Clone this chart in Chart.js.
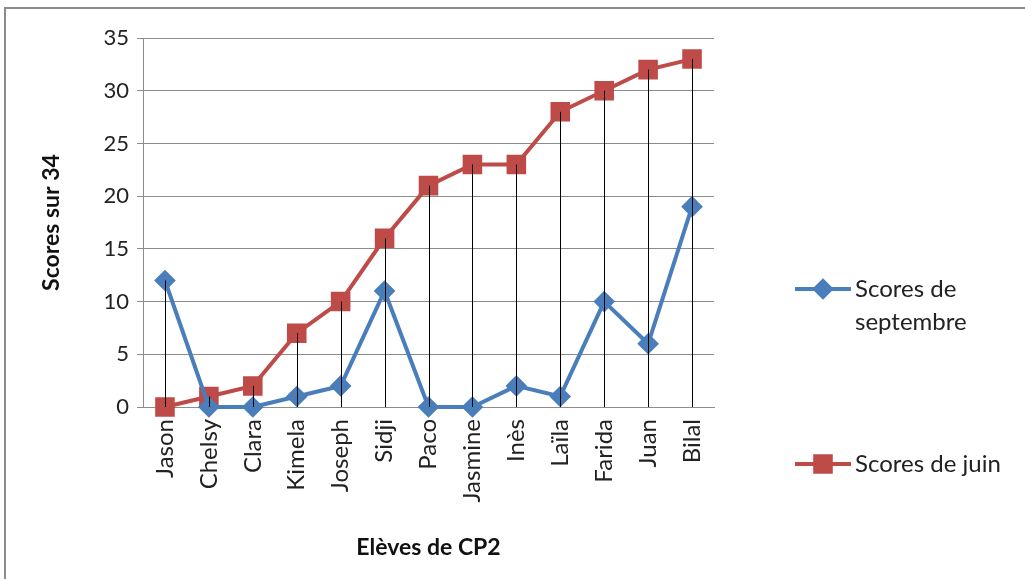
<!DOCTYPE html>
<html>
<head>
<meta charset="utf-8">
<script src="https://cdn.jsdelivr.net/npm/chart.js@4.4.1/dist/chart.umd.min.js"></script>
<style>
  html, body { margin: 0; padding: 0; background: #fff; }
  #wrap { position: relative; width: 1025px; height: 579px; overflow: hidden; }
  #frame { position: absolute; left: 4px; top: 7px; width: 1100px; height: 700px;
           border-top: 2px solid #8c8c8c; border-left: 2px solid #8c8c8c; }
  canvas { position: absolute; left: 0; top: 0; }
</style>
</head>
<body>
<div id="wrap">
  <div id="frame"></div>
  <canvas id="scoresChart" width="1025" height="579"></canvas>
</div>
<script>
const eleves = ['Jason', 'Chelsy', 'Clara', 'Kimela', 'Joseph', 'Sidji', 'Paco', 'Jasmine', 'Inès', 'Laïla', 'Farida', 'Juan', 'Bilal'];
const scoresSeptembre = [12, 0, 0, 1, 2, 11, 0, 0, 2, 1, 10, 6, 19];
const scoresJuin = [0, 1, 2, 7, 10, 16, 21, 23, 23, 28, 30, 32, 33];
const yTicks = [0, 5, 10, 15, 20, 25, 30, 35];

const FONT = 'Lato, "Open Sans", sans-serif';
const BLUE = '#4a7ebb';
const RED = '#be4b48';

// lignes de projection (noires) du point le plus haut vers 0
const dropLines = {
  id: 'dropLines',
  afterDatasetsDraw(chart) {
    const { ctx, scales: { x, y } } = chart;
    ctx.save();
    ctx.strokeStyle = '#000';
    ctx.lineWidth = 1;
    eleves.forEach((e, i) => {
      const top = Math.max(scoresSeptembre[i], scoresJuin[i]);
      const px = Math.round(x.getPixelForValue(i)) + 0.5;
      ctx.beginPath();
      ctx.moveTo(px, y.getPixelForValue(top));
      ctx.lineTo(px, y.getPixelForValue(0));
      ctx.stroke();
    });
    ctx.restore();
  }
};

// légende à droite, façon Excel
const sideLegend = {
  id: 'sideLegend',
  afterDraw(chart) {
    const { ctx } = chart;
    const items = [
      { ds: chart.data.datasets[0], y: 289, lines: ['Scores de', 'septembre'] },
      { ds: chart.data.datasets[1], y: 464, lines: ['Scores de juin'] }
    ];
    ctx.save();
    items.forEach(it => {
      ctx.strokeStyle = it.ds.borderColor;
      ctx.lineWidth = 4;
      ctx.beginPath();
      ctx.moveTo(795, it.y);
      ctx.lineTo(851, it.y);
      ctx.stroke();
      ctx.fillStyle = it.ds.pointBackgroundColor;
      ctx.strokeStyle = it.ds.pointBorderColor;
      Chart.helpers.drawPoint(ctx, {
        pointStyle: it.ds.pointStyle,
        radius: it.ds.pointRadius,
        borderWidth: 1
      }, 823, it.y);
      ctx.fillStyle = '#222';
      ctx.font = '24px ' + FONT;
      ctx.textBaseline = 'middle';
      it.lines.forEach((t, k) => ctx.fillText(t, 855, it.y + k * 33));
    });
    ctx.restore();
  }
};

new Chart(document.getElementById('scoresChart').getContext('2d'), {
  type: 'line',
  data: {
    labels: eleves,
    datasets: [{
      label: 'Scores de septembre',
      data: scoresSeptembre,
      borderColor: BLUE,
      backgroundColor: BLUE,
      pointBackgroundColor: BLUE,
      pointBorderColor: BLUE,
      borderWidth: 4,
      pointStyle: 'rectRot',
      pointRadius: 8,
      pointHoverRadius: 8,
      tension: 0,
      clip: false
    }, {
      label: 'Scores de juin',
      data: scoresJuin,
      borderColor: RED,
      backgroundColor: RED,
      pointBackgroundColor: RED,
      pointBorderColor: RED,
      borderWidth: 4,
      pointStyle: 'rect',
      pointRadius: 11,
      pointHoverRadius: 11,
      tension: 0,
      clip: false
    }]
  },
  options: {
    responsive: false,
    animation: false,
    layout: { padding: { left: 0, right: 311, top: 38, bottom: 0 } },
    plugins: {
      legend: { display: false },
      tooltip: { enabled: false }
    },
    scales: {
      x: {
        offset: true,
        grid: { display: false, drawTicks: true, tickLength: 6 },
        border: { color: '#8c8c8c', width: 1 },
        ticks: {
          color: '#222', font: { family: FONT, size: 24 },
          maxRotation: 90, minRotation: 90, autoSkip: false, padding: 6
        },
        title: {
          display: true, text: 'Elèves de CP2', color: '#111',
          font: { family: FONT, size: 23, weight: 'bold' }, padding: 18
        },
        afterFit(s) { s.height = 172; }
      },
      y: {
        min: 0, max: 35,
        afterBuildTicks(s) { s.ticks = yTicks.map(v => ({ value: v })); },
        grid: { color: '#8c8c8c', tickLength: 6 },
        border: { color: '#8c8c8c', width: 1 },
        ticks: { color: '#222', font: { family: FONT, size: 22 }, padding: 8 },
        title: {
          display: true, text: 'Scores sur 34', color: '#111',
          font: { family: FONT, size: 23, weight: 'bold' }, padding: 38
        },
        afterFit(s) { s.width = 143; }
      }
    }
  },
  plugins: [dropLines, sideLegend]
});
</script>
</body>
</html>
